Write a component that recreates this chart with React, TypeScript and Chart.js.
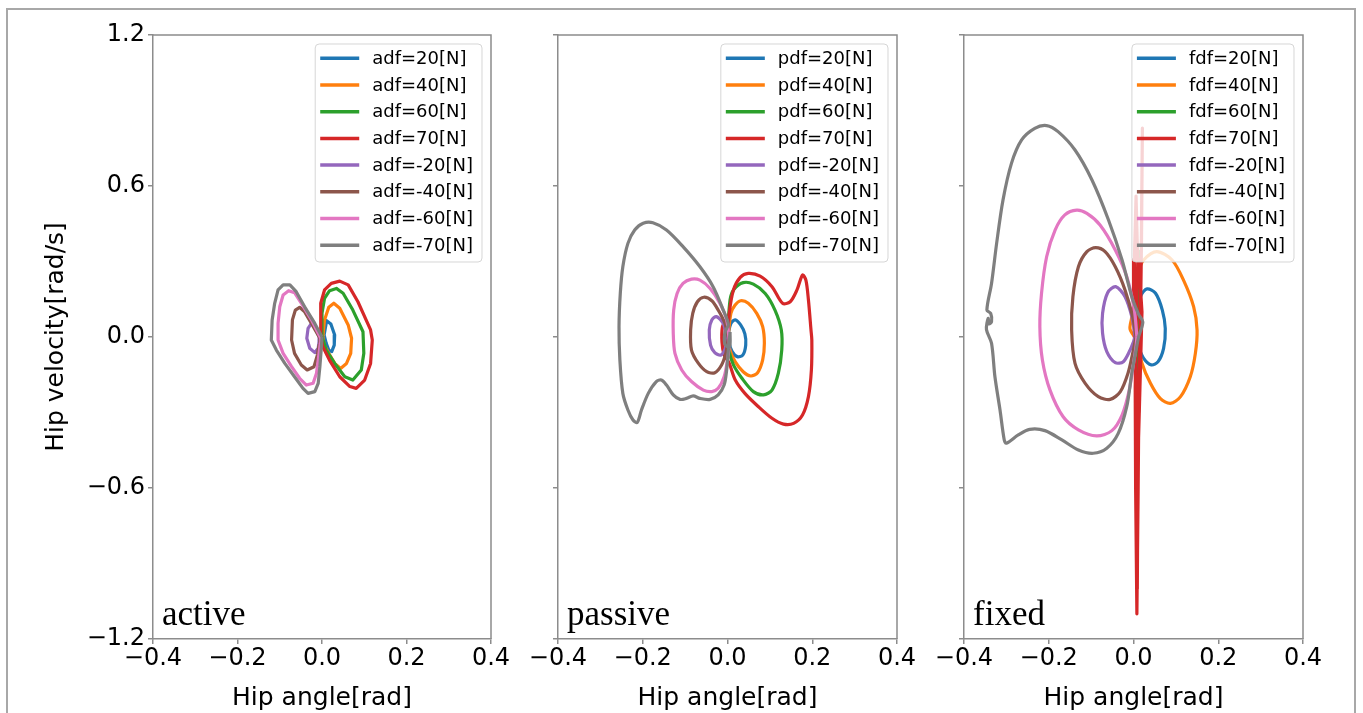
import React, { useEffect, useRef } from 'react';
import { Chart, registerables } from 'chart.js';

Chart.register(...registerables);

const COLORS = ['#1f77b4', '#ff7f0e', '#2ca02c', '#d62728', '#9467bd', '#8c564b', '#e377c2', '#7f7f7f'];
const FORCES = ['20', '40', '60', '70', '-20', '-40', '-60', '-70'];
const X_TICKS = [-0.4, -0.2, 0.0, 0.2, 0.4];
const Y_TICKS = [-1.2, -0.6, 0.0, 0.6, 1.2];
const PANEL_NAMES = ['active', 'passive', 'fixed'];
const PREFIXES = ['adf', 'pdf', 'fdf'];

type P = [number, number];

// ---------- active ----------
const active20: P[] = [[0.005,0.008],[0.011,0.065],[0.021,0.052],[0.03,0.008],[0.029,-0.032],[0.023,-0.058],[0.016,-0.052],[0.01,-0.025]];
const active40: P[] = [[0.002,0.001],[0.006,0.068],[0.016,0.118],[0.028,0.134],[0.042,0.114],[0.062,0.048],[0.07,-0.005],[0.068,-0.065],[0.058,-0.105],[0.044,-0.125],[0.03,-0.105],[0.016,-0.065],[0.005,-0.032]];
const active60: P[] = [[0,0.001],[0,0.094],[0.006,0.154],[0.018,0.184],[0.034,0.193],[0.05,0.174],[0.073,0.107],[0.097,0.021],[0.099,-0.065],[0.093,-0.131],[0.073,-0.171],[0.054,-0.158],[0.03,-0.105],[0.01,-0.052]];
const active70: P[] = [[-0.003,0.001],[-0.003,0.134],[0.006,0.187],[0.022,0.213],[0.042,0.222],[0.062,0.207],[0.085,0.14],[0.115,0.028],[0.119,-0.012],[0.115,-0.105],[0.101,-0.171],[0.081,-0.204],[0.066,-0.197],[0.042,-0.158],[0.018,-0.093],[0.002,-0.039]];
const activeN20: P[] = [[-0.007,0.001],[-0.017,0.041],[-0.025,0.054],[-0.033,0.034],[-0.036,-0.005],[-0.029,-0.045],[-0.017,-0.062],[-0.009,-0.045],[-0.007,-0.019]];
const activeN40: P[] = [[-0.005,-0.005],[-0.025,0.054],[-0.041,0.1],[-0.053,0.118],[-0.063,0.107],[-0.07,0.068],[-0.072,-0.012],[-0.065,-0.065],[-0.049,-0.111],[-0.035,-0.131],[-0.019,-0.118],[-0.011,-0.072],[-0.007,-0.032]];
const activeN60: P[] = [[-0.003,-0.005],[-0.025,0.068],[-0.049,0.134],[-0.065,0.176],[-0.079,0.184],[-0.092,0.167],[-0.1,0.12],[-0.104,0.054],[-0.104,-0.012],[-0.092,-0.065],[-0.072,-0.118],[-0.053,-0.164],[-0.037,-0.191],[-0.021,-0.184],[-0.013,-0.144],[-0.008,-0.078],[-0.004,-0.025]];
const activeN70: P[] = [[0,0],[-0.017,0.054],[-0.041,0.12],[-0.061,0.18],[-0.076,0.207],[-0.092,0.207],[-0.104,0.187],[-0.112,0.134],[-0.118,0.068],[-0.12,-0.012],[-0.108,-0.052],[-0.088,-0.105],[-0.065,-0.158],[-0.045,-0.204],[-0.033,-0.224],[-0.017,-0.217],[-0.009,-0.184],[-0.005,-0.118],[-0.002,-0.052]];

// ---------- passive ----------
const passive20: P[] = [[0.002,0.015],[0.008,0.054],[0.018,0.068],[0.031,0.048],[0.041,0.012],[0.043,-0.032],[0.036,-0.072],[0.023,-0.078],[0.011,-0.058],[0.004,-0.025]];
const passive40: P[] = [[0.002,0.008],[0.008,0.094],[0.018,0.127],[0.031,0.144],[0.049,0.134],[0.069,0.094],[0.083,0.041],[0.087,-0.025],[0.083,-0.091],[0.071,-0.142],[0.055,-0.155],[0.037,-0.138],[0.018,-0.098],[0.006,-0.052]];
const passive60: P[] = [[0,0.001],[0.006,0.147],[0.015,0.189],[0.037,0.216],[0.061,0.21],[0.089,0.173],[0.112,0.107],[0.127,0.028],[0.128,-0.052],[0.12,-0.144],[0.105,-0.211],[0.085,-0.23],[0.061,-0.217],[0.034,-0.164],[0.014,-0.111],[0.004,-0.058]];
const passive70: P[] = [[0,0.001],[0.004,0.094],[0.014,0.187],[0.03,0.237],[0.049,0.253],[0.077,0.242],[0.105,0.2],[0.13,0.134],[0.148,0.14],[0.164,0.187],[0.177,0.246],[0.185,0.226],[0.191,0.147],[0.197,0.028],[0.199,-0.012],[0.198,-0.131],[0.191,-0.237],[0.177,-0.31],[0.156,-0.343],[0.132,-0.346],[0.105,-0.323],[0.073,-0.277],[0.041,-0.224],[0.018,-0.17],[0.004,-0.104],[-0.008,-0.07],[-0.013,-0.02],[-0.012,0.04],[-0.005,0.06]];
const passiveN20: P[] = [[-0.002,0.001],[-0.01,0.054],[-0.026,0.081],[-0.037,0.068],[-0.043,0.028],[-0.04,-0.032],[-0.03,-0.062],[-0.016,-0.072],[-0.006,-0.049],[-0.003,-0.025]];
const passiveN40: P[] = [[0.002,-0.005],[-0.006,0.054],[-0.022,0.107],[-0.037,0.144],[-0.056,0.158],[-0.071,0.14],[-0.082,0.094],[-0.087,0.028],[-0.085,-0.052],[-0.069,-0.104],[-0.049,-0.138],[-0.03,-0.142],[-0.014,-0.111],[-0.004,-0.065],[0,-0.025]];
const passiveN60: P[] = [[0.004,-0.012],[-0.002,0.068],[-0.018,0.134],[-0.041,0.193],[-0.065,0.226],[-0.085,0.23],[-0.105,0.213],[-0.119,0.173],[-0.127,0.107],[-0.128,0.015],[-0.124,-0.065],[-0.108,-0.131],[-0.085,-0.177],[-0.057,-0.211],[-0.037,-0.217],[-0.022,-0.204],[-0.008,-0.158],[0,-0.091],[0.004,-0.039]];
const passiveN70: P[] = [[0.006,0.02],[0.005,-0.04],[-0.006,-0.03],[-0.006,0.02],[0.002,0.05],[-0.01,0.107],[-0.034,0.2],[-0.065,0.279],[-0.105,0.359],[-0.144,0.425],[-0.176,0.454],[-0.199,0.452],[-0.219,0.425],[-0.235,0.372],[-0.247,0.279],[-0.253,0.173],[-0.256,0.041],[-0.254,-0.091],[-0.247,-0.224],[-0.235,-0.29],[-0.223,-0.33],[-0.213,-0.34],[-0.203,-0.29],[-0.187,-0.224],[-0.168,-0.177],[-0.156,-0.171],[-0.144,-0.191],[-0.128,-0.23],[-0.112,-0.248],[-0.097,-0.244],[-0.081,-0.234],[-0.065,-0.244],[-0.041,-0.248],[-0.022,-0.23],[-0.008,-0.191],[-0.002,-0.131],[0.002,-0.052]];

// ---------- fixed ----------
const fixed20: P[] = [[0.006,0.001],[0.009,0.107],[0.018,0.167],[0.032,0.191],[0.052,0.174],[0.068,0.107],[0.075,0.034],[0.071,-0.045],[0.058,-0.098],[0.042,-0.111],[0.024,-0.085],[0.012,-0.038]];
const fixed40: P[] = [[0.008,-0.012],[-0.008,0.03],[-0.005,0.07],[0.004,0.16],[0.012,0.26],[0.024,0.306],[0.055,0.339],[0.091,0.306],[0.118,0.226],[0.142,0.12],[0.15,0.028],[0.146,-0.065],[0.134,-0.158],[0.111,-0.237],[0.087,-0.264],[0.063,-0.244],[0.04,-0.184],[0.02,-0.104]];
const fixed60: P[] = [[0.008,0],[0.011,0.25],[0.014,0.34],[0.016,0.2],[0.014,-0.1],[0.012,-0.3],[0.01,-0.15],[0.008,0]];
const fixed70: P[] = [[0.004,0],[0.002,0.3],[0.006,0.56],[0.01,0.3],[0.004,-0.2],[0.005,-0.6],[0.008,-1.1],[0.011,-0.6],[0.013,-0.2],[0.018,0.3],[0.021,0.83],[0.019,0.4],[0.016,0.0],[0.012,-0.3],[0.01,-0.7],[0.009,-1.0],[0.007,-0.7],[0.006,-0.3],[0.001,0.1],[0.0,0.31],[0.012,0.31],[0.02,0.1],[0.012,-0.4],[0.009,-0.9],[0.008,-0.5],[0.005,0.0]];
const fixedN20: P[] = [[0.004,0.001],[-0.004,0.081],[-0.02,0.16],[-0.042,0.2],[-0.061,0.176],[-0.073,0.094],[-0.073,0.015],[-0.063,-0.058],[-0.043,-0.102],[-0.024,-0.098],[-0.008,-0.052],[0,-0.019]];
const fixedN40: P[] = [[0.006,0.001],[-0.002,0.081],[-0.02,0.187],[-0.043,0.279],[-0.067,0.339],[-0.089,0.355],[-0.11,0.339],[-0.13,0.279],[-0.143,0.16],[-0.146,0.028],[-0.138,-0.105],[-0.114,-0.184],[-0.083,-0.237],[-0.055,-0.248],[-0.031,-0.217],[-0.013,-0.144],[-0.002,-0.065]];
const fixedN60: P[] = [[0.008,0.001],[0.002,0.107],[-0.016,0.24],[-0.043,0.346],[-0.079,0.445],[-0.11,0.491],[-0.134,0.504],[-0.162,0.485],[-0.185,0.425],[-0.205,0.319],[-0.217,0.174],[-0.221,0.041],[-0.215,-0.091],[-0.197,-0.211],[-0.166,-0.317],[-0.13,-0.369],[-0.087,-0.393],[-0.051,-0.372],[-0.027,-0.31],[-0.01,-0.211],[0,-0.105],[0.006,-0.038]];
const fixedN70: P[] = [[0.012,0.001],[0.022,0.06],[0.012,0.09],[-0.004,0.16],[-0.027,0.306],[-0.059,0.465],[-0.098,0.624],[-0.138,0.743],[-0.178,0.816],[-0.205,0.84],[-0.233,0.829],[-0.264,0.783],[-0.288,0.69],[-0.308,0.544],[-0.323,0.372],[-0.335,0.213],[-0.346,0.107],[-0.337,0.094],[-0.335,0.061],[-0.341,0.052],[-0.343,0.074],[-0.347,0.03],[-0.335,-0.025],[-0.327,-0.158],[-0.315,-0.29],[-0.305,-0.409],[-0.3,-0.422],[-0.272,-0.389],[-0.245,-0.367],[-0.209,-0.372],[-0.169,-0.409],[-0.13,-0.449],[-0.095,-0.462],[-0.063,-0.442],[-0.036,-0.383],[-0.016,-0.277],[-0.004,-0.144],[0.006,-0.052]];

const ACTIVE = [active20, active40, active60, active70, activeN20, activeN40, activeN60, activeN70];
const PASSIVE = [passive20, passive40, passive60, passive70, passiveN20, passiveN40, passiveN60, passiveN70];
const FIXED = [fixed20, fixed40, fixed60, fixed70, fixedN20, fixedN40, fixedN60, fixedN70];
const SERIES = [ACTIVE, PASSIVE, FIXED];

const SPINE = '#8c8c8c';
const FONT = '"DejaVu Sans"';

const fmt = (v: number) => (v < -1e-9 ? '\u2212' : '') + Math.abs(v).toFixed(1);

const panelPlugin = {
  id: 'mplPanel',
  afterDatasetsDraw(chart: any, _args: any, opts: any) {
    const { ctx, chartArea } = chart;
    ctx.save();
    ctx.strokeStyle = SPINE;
    ctx.lineWidth = 1.5;
    ctx.beginPath();
    ctx.moveTo(chartArea.left, chartArea.top);
    ctx.lineTo(chartArea.right, chartArea.top);
    ctx.lineTo(chartArea.right, chartArea.bottom);
    ctx.stroke();
    ctx.font = '35px "Liberation Serif"';
    ctx.fillStyle = '#000';
    ctx.textAlign = 'left';
    ctx.textBaseline = 'alphabetic';
    ctx.fillText(opts.name, chartArea.left + 9, 625);
    ctx.font = '18px ' + FONT;
    const ds = chart.data.datasets;
    const tw = Math.max(...ds.map((d: any) => ctx.measureText(d.label).width));
    const w = 5 + 39 + 13 + tw + 9;
    const h = 218;
    const x0 = chartArea.right - 9 - w;
    const y0 = chartArea.top + 9;
    ctx.beginPath();
    ctx.roundRect(x0, y0, w, h, 4);
    ctx.fillStyle = 'rgba(255,255,255,0.8)';
    ctx.fill();
    ctx.strokeStyle = 'rgba(204,204,204,0.8)';
    ctx.lineWidth = 1;
    ctx.stroke();
    ctx.textBaseline = 'middle';
    ds.forEach((d: any, i: number) => {
      const yy = y0 + 14.3 + i * 26.7;
      ctx.strokeStyle = d.borderColor;
      ctx.lineWidth = 3.5;
      ctx.lineCap = 'butt';
      ctx.beginPath();
      ctx.moveTo(x0 + 5, yy);
      ctx.lineTo(x0 + 44, yy);
      ctx.stroke();
      ctx.fillStyle = '#000';
      ctx.fillText(d.label, x0 + 57, yy + 1);
    });
    ctx.restore();
  },
};

const LAYOUTS = [
  { left: 0, right: 872, yWidth: 153 },
  { left: 548, right: 466, yWidth: 10 },
  { left: 954, right: 60, yWidth: 10 },
];

function makeConfig(p: number): any {
  const lay = LAYOUTS[p];
  const datasets = SERIES[p].map((pts, i) => ({
    label: `${PREFIXES[p]}=${FORCES[i]}[N]`,
    data: [...pts, pts[0]].map(([x, y]) => ({ x, y })),
    showLine: true,
    borderColor: COLORS[i],
    backgroundColor: COLORS[i],
    borderWidth: 3.2,
    borderJoinStyle: 'round',
    pointRadius: 0,
    pointHoverRadius: 0,
    tension: p === 0 || (p === 2 && (i === 2 || i === 3)) ? 0 : 0.3,
    order: 8 - i,
  }));
  return {
    type: 'scatter',
    data: { datasets },
    plugins: [panelPlugin],
    options: {
      responsive: false,
      animation: false,
      devicePixelRatio: 1,
      layout: { padding: { left: lay.left, right: lay.right, top: 35, bottom: 0 } },
      plugins: {
        legend: { display: false },
        tooltip: { enabled: false },
        mplPanel: { name: PANEL_NAMES[p] },
      },
      scales: {
        x: {
          type: 'linear',
          min: -0.4,
          max: 0.4,
          afterBuildTicks: (s: any) => { s.ticks = X_TICKS.map((v) => ({ value: v })); },
          afterFit: (s: any) => { s.height = 74; s.paddingLeft = 0; s.paddingRight = 0; },
          ticks: {
            callback: (v: any) => fmt(Number(v)),
            font: { family: FONT, size: 24 },
            color: '#000',
            padding: 0,
            maxRotation: 0,
            autoSkip: false,
          },
          grid: { drawOnChartArea: false, drawTicks: true, tickLength: 5, color: SPINE, lineWidth: 1.5 },
          border: { display: true, color: SPINE, width: 1.5 },
          title: {
            display: true,
            text: 'Hip angle[rad]',
            font: { family: FONT, size: 25 },
            color: '#000',
            padding: { top: 0, bottom: 0 },
          },
        },
        y: {
          type: 'linear',
          min: -1.2,
          max: 1.2,
          afterBuildTicks: (s: any) => { s.ticks = Y_TICKS.map((v) => ({ value: v })); },
          afterFit: (s: any) => { s.width = lay.yWidth; s.paddingTop = 0; s.paddingBottom = 0; },
          ticks: {
            display: p === 0,
            callback: (v: any) => fmt(Number(v)),
            font: { family: FONT, size: 24 },
            color: '#000',
            padding: 3,
            autoSkip: false,
          },
          grid: { drawOnChartArea: false, drawTicks: true, tickLength: 5, color: SPINE, lineWidth: 1.5 },
          border: { display: true, color: SPINE, width: 1.5 },
          title: {
            display: p === 0,
            text: 'Hip velocity[rad/s]',
            font: { family: FONT, size: 25 },
            color: '#000',
            padding: { top: 41, bottom: 0 },
          },
        },
      },
    },
  };
}

export default function App() {
  const r0 = useRef<HTMLCanvasElement>(null);
  const r1 = useRef<HTMLCanvasElement>(null);
  const r2 = useRef<HTMLCanvasElement>(null);

  useEffect(() => {
    const refs = [r0, r1, r2];
    const charts = refs.map((r, p) => new Chart(r.current as HTMLCanvasElement, makeConfig(p)));
    return () => charts.forEach((c) => c.destroy());
  }, []);

  const cStyle: React.CSSProperties = { position: 'absolute', left: 0, top: 0, width: 1363, height: 713 };
  return (
    <div style={{ position: 'fixed', left: 0, top: 0, width: 1363, height: 713, background: '#fff', overflow: 'hidden' }}>
      <div style={{ position: 'absolute', left: 6, top: 8, width: 1350, height: 800, border: '2px solid #a8a8a8', boxSizing: 'border-box' }} />
      <canvas ref={r0} width={1363} height={713} style={cStyle} />
      <canvas ref={r1} width={1363} height={713} style={cStyle} />
      <canvas ref={r2} width={1363} height={713} style={cStyle} />
    </div>
  );
}
